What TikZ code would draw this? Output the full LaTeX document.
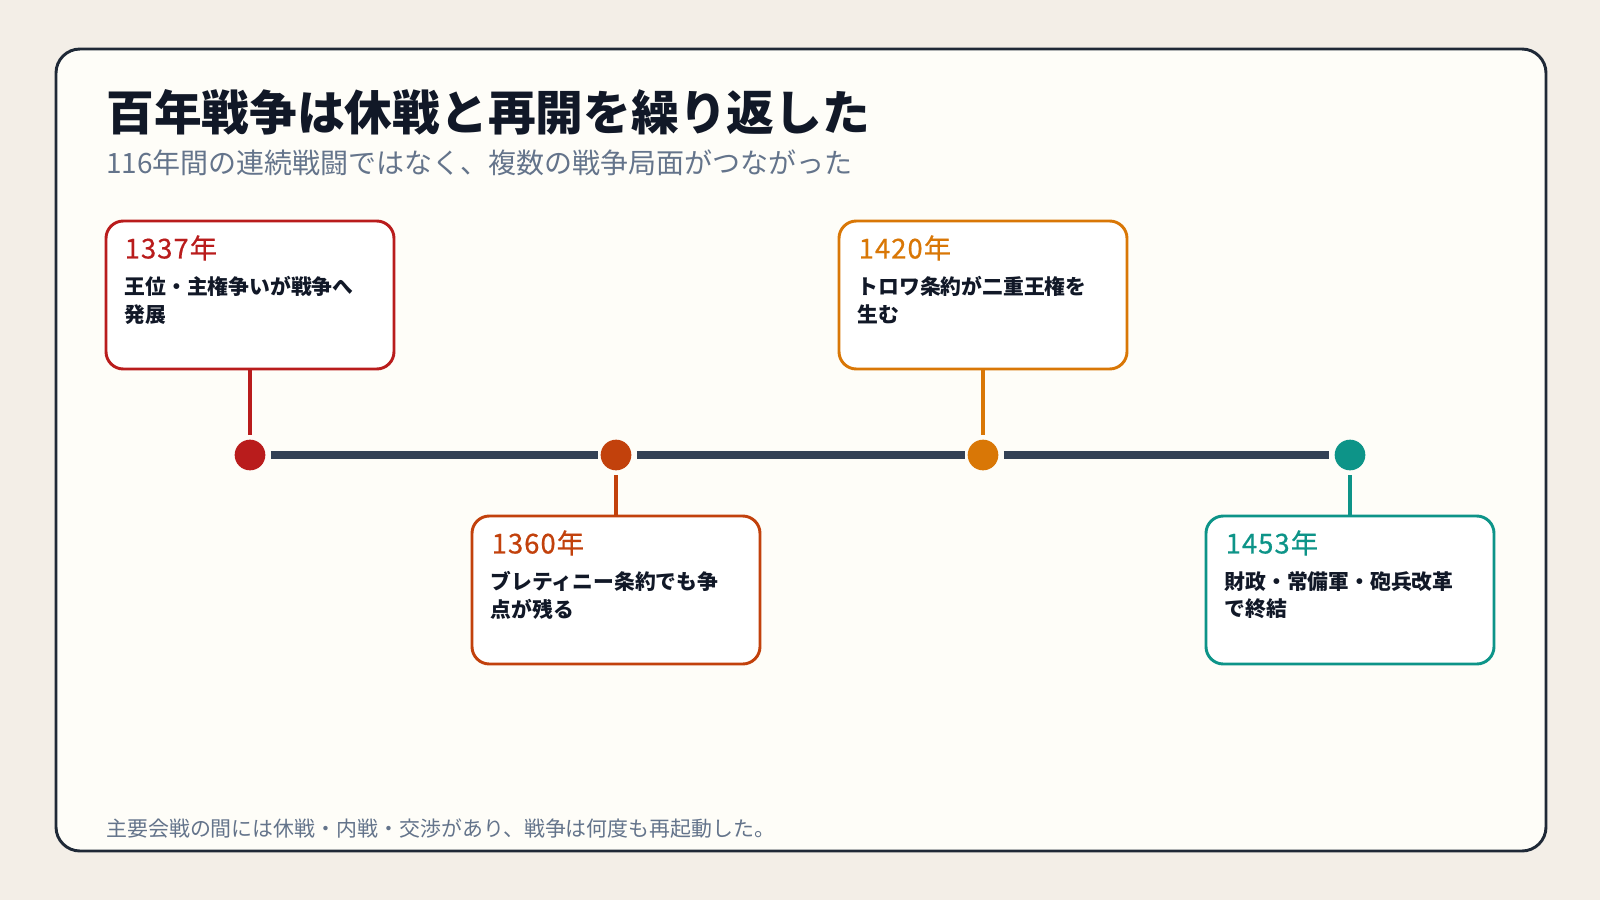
\documentclass[tikz,border=0pt]{standalone}
\usepackage{fontspec}
\setmainfont{Noto Sans CJK JP}
\newfontfamily\jp{Noto Sans CJK JP}
\newfontfamily\jpyear[FakeBold=0.6,LetterSpace=4]{Noto Sans CJK JP}
\definecolor{bg}{HTML}{F3EEE7}
\definecolor{panel}{HTML}{FEFDF8}
\definecolor{frame}{HTML}{1F2937}
\definecolor{axis}{HTML}{334155}
\definecolor{cA}{HTML}{B91C1C}
\definecolor{cB}{HTML}{C2410C}
\definecolor{cC}{HTML}{D97706}
\definecolor{cD}{HTML}{0D9488}
\definecolor{sub}{HTML}{64748B}
\definecolor{ink}{HTML}{111827}
\begin{document}
\begin{tikzpicture}[x=0.75pt,y=-0.75pt,
  card/.style={draw=#1,line width=2.2pt,fill=white,rounded corners=13pt,minimum width=216pt,minimum height=111pt,inner sep=0pt},
  dot/.style={circle,fill=#1,minimum size=23pt,inner sep=0pt},
  stem/.style={draw=#1,line width=2.6pt},
  year/.style={anchor=west,text=#1,font=\jpyear\fontsize{20.5}{22}\selectfont},
  body/.style={anchor=north west,text=ink,align=left,font=\jp\bfseries\fontsize{15.6}{20.5}\selectfont}]
\fill[bg] (0,0) rectangle (1600,900);
\useasboundingbox (0,0) rectangle (1600,900);
\draw[frame,fill=panel,line width=2.2pt,rounded corners=18pt] (56,49) rectangle (1546,851);
\node[anchor=base west,text=ink,font=\jp\bfseries\fontsize{35.8}{40}\selectfont,inner sep=0pt] (title) at (106,130) {百年戦争は休戦と再開を繰り返した};
\node[anchor=base west,text=sub,font=\jp\fontsize{21}{24}\selectfont,inner sep=0pt] (subt) at (106,173) {116年間の連続戦闘ではなく、複数の戦争局面がつながった};
% dots
\node[dot=cA] (d1) at (250,455) {};
\node[dot=cB] (d2) at (616,455) {};
\node[dot=cC] (d3) at (983,455) {};
\node[dot=cD] (d4) at (1350,455) {};
\draw[axis,line width=5.5pt] ([xshift=4pt]d1.east) -- ([xshift=-2pt]d2.west);
\draw[axis,line width=5.5pt] ([xshift=4pt]d2.east) -- ([xshift=-2pt]d3.west);
\draw[axis,line width=5.5pt] ([xshift=4pt]d3.east) -- ([xshift=-4pt]d4.west);
% cards
\node[card=cA] (b1) at (250,295) {};
\node[card=cB] (b2) at (616,590) {};
\node[card=cC] (b3) at (983,295) {};
\node[card=cD] (b4) at (1350,590) {};
\draw[stem=cA] (b1.south) -- ([yshift=3pt]d1.north);
\draw[stem=cC] (b3.south) -- ([yshift=3pt]d3.north);
\draw[stem=cB] (b2.north) -- ([yshift=-3pt]d2.south);
\draw[stem=cD] (b4.north) -- ([yshift=-3pt]d4.south);
\node[year=cA] (y1) at (120,248) {1337年};
\node[body] (t1) at (120,272) {王位・主権争いが戦争へ\\発展};
\node[year=cB] (y2) at (487,543) {1360年};
\node[body] (t2) at (486,567) {ブレティニー条約でも争\\点が残る};
\node[year=cC] (y3) at (854,248) {1420年};
\node[body] (t3) at (853,272) {トロワ条約が二重王権を\\生む};
\node[year=cD] (y4) at (1221,543) {1453年};
\node[body] (t4) at (1220,567) {財政・常備軍・砲兵改革\\で終結};
\node[anchor=base west,text=sub,font=\jp\fontsize{15.7}{18}\selectfont,inner sep=0pt] (foot) at (106,836) {主要会戦の間には休戦・内戦・交渉があり、戦争は何度も再起動した。};
\end{tikzpicture}
\end{document}
